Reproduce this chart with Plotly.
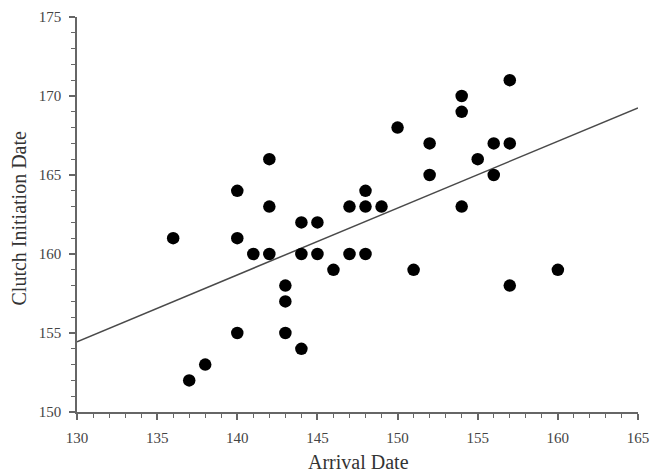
import plotly.graph_objects as go

arrival = [136, 137, 138, 140, 140, 140, 141, 142, 142, 142, 143, 143, 143,
           144, 144, 144, 145, 145, 146, 147, 147, 148, 148, 148, 149, 150,
           151, 152, 152, 154, 154, 154, 155, 156, 156, 157, 157, 157, 160]
clutch = [161, 152, 153, 164, 161, 155, 160, 166, 163, 160, 158, 157, 155,
          162, 160, 154, 162, 160, 159, 163, 160, 164, 163, 160, 163, 168,
          159, 167, 165, 170, 169, 163, 166, 167, 165, 171, 167, 158, 159]
fit_x = [130, 165]
fit_y = [154.45, 169.25]
x_title = "Arrival Date"
y_title = "Clutch Initiation Date"

font = "Liberation Serif, Times New Roman, serif"

fig = go.Figure()
fig.add_trace(go.Scatter(x=fit_x, y=fit_y, mode="lines",
                         line=dict(color="#4a4a4a", width=1.5), showlegend=False))
fig.add_trace(go.Scatter(x=arrival, y=clutch, mode="markers",
                         marker=dict(color="black", size=12.5), showlegend=False))

axis_common = dict(
    showgrid=False, zeroline=False, showline=True, linecolor="#666666", linewidth=1.5,
    ticks="outside", ticklen=6, tickwidth=1.5, tickcolor="#666666",
    tickfont=dict(family=font, size=15, color="#444444"),
    minor=dict(ticks="outside", ticklen=4, tickwidth=1.2, tickcolor="#666666", dtick=1),
    automargin=False, ticklabeloverflow="allow", ticklabelstandoff=5,
)

fig.update_xaxes(range=[130, 165], dtick=5, tick0=130, **axis_common)
fig.update_yaxes(range=[150, 175], dtick=5, tick0=150, **axis_common)

title_font = dict(family=font, size=20, color="#333333")
fig.add_annotation(text=x_title, xref="paper", yref="paper", x=0.5, y=0,
                   xanchor="center", yanchor="middle", yshift=-50, xshift=1,
                   showarrow=False, font=title_font)
fig.add_annotation(text=y_title, xref="paper", yref="paper", x=0, y=0.5,
                   xanchor="center", yanchor="middle", xshift=-59, yshift=-4,
                   textangle=-90, showarrow=False, font=title_font)

fig.update_layout(width=650, height=475, plot_bgcolor="white", paper_bgcolor="white",
                  margin=dict(l=77, r=12, t=17, b=63))

fig.write_html("out.html", config={"displayModeBar": False},
               post_script="document.body.style.margin='0';document.body.style.overflow='hidden';")
